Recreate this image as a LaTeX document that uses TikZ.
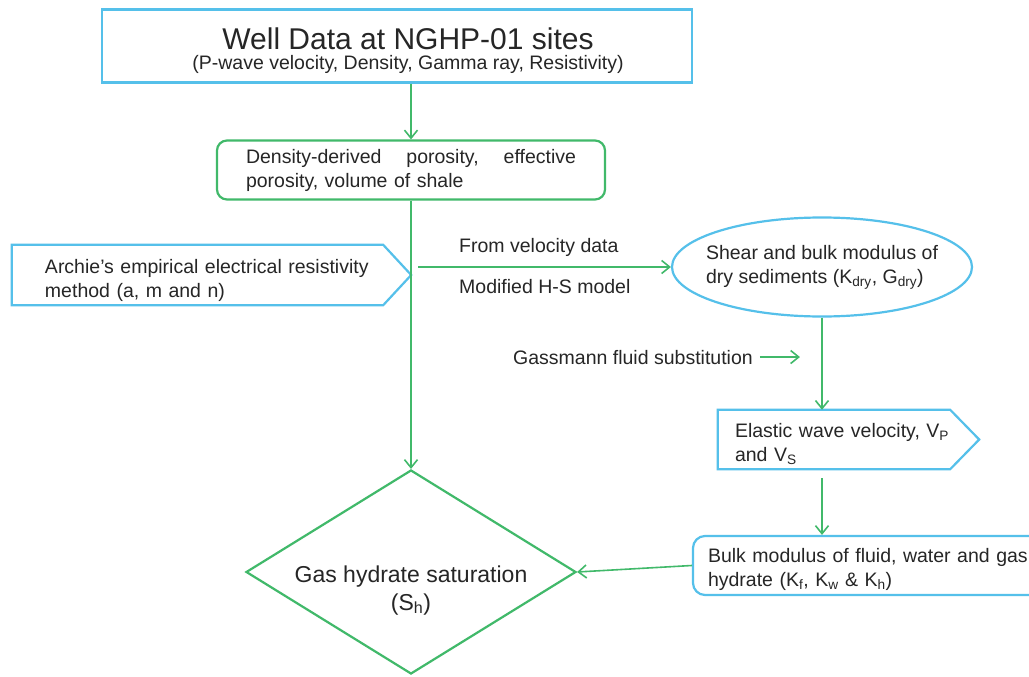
\documentclass[tikz,border=0pt]{standalone}
\usepackage{fontspec}
\setmainfont{Liberation Sans}
\usetikzlibrary{arrows.meta,shapes.geometric,calc}
\definecolor{bluec}{RGB}{85,192,234}
\definecolor{greenc}{RGB}{65,185,106}
\definecolor{txtc}{RGB}{38,38,38}
\newcommand\zbox[2]{\makebox[0pt]{\raisebox{#1}[0pt][0pt]{#2}}}
\newcommand\upstrut[1]{\rule{0pt}{#1}}
\begin{document}
\begin{tikzpicture}[x=1pt,y=-1pt,
  font=\fontsize{19.5}{24}\selectfont, text=txtc,
  bluebox/.style={draw=bluec, line width=2.2pt},
  greenbox/.style={draw=greenc, line width=2.2pt},
  conn/.style={draw=greenc, line width=1.6pt, -{Straight Barb[length=8pt,width=13pt]}},
  lbl/.style={anchor=base west, inner sep=0pt}]
\useasboundingbox[fill=white] (0,0) rectangle (1029,677);

% top box
\node[bluebox, minimum width=590, minimum height=73, inner sep=0] (top) at (397,46)
  {\zbox{-24pt}{\hspace*{22pt}\fontsize{19.5}{20}\selectfont\begin{tabular}[b]{@{}c@{}}{\fontsize{30}{20}\selectfont Well Data at NGHP-01 sites}\\(P-wave velocity, Density, Gamma ray, Resistivity)\end{tabular}}};

% porosity box
\node[greenbox, rounded corners=10, minimum height=59, text width=330, inner xsep=29, inner ysep=0, align=left] (dens) at (411,170)
  {Density-derived\hfill porosity,\hfill effective\\porosity, volume of shale};

% Archie pentagon
\node[inner xsep=33, inner ysep=0, minimum height=60, text width=333, align=left] (archie) at (211.5,275)
  {\upstrut{26pt}Archie’s empirical electrical resistivity\\method (a, m and n)};
\draw[bluebox] (archie.north west) -- ($(archie.north east)+(-28,0)$) -- (archie.east)
  -- ($(archie.south east)+(-28,0)$) -- (archie.south west) -- cycle;

% ellipse
\node[ellipse, bluebox, minimum width=300, minimum height=99, inner sep=0] (shear) at (822,267)
  {\zbox{-16pt}{\begin{tabular}[b]{@{}l@{}}Shear and bulk modulus of\\dry sediments (K\textsubscript{dry}, G\textsubscript{dry})\end{tabular}}};

% labels on horizontal arrow
\node[lbl] (fvd) at (459,252) {From velocity data};
\node[lbl] (mhs) at (459,293) {Modified H-S model};

% Gassmann
\node[lbl] (gass) at (513,364) {Gassmann fluid substitution};

% elastic pentagon
\node[inner xsep=17, inner ysep=0, minimum height=59, text width=227, align=left] (elastic) at (848.5,439.5)
  {\upstrut{24pt}Elastic wave velocity, V\textsubscript{P}\\and V\textsubscript{S}};
\draw[bluebox] (elastic.north west) -- ($(elastic.north east)+(-29,0)$) -- (elastic.east)
  -- ($(elastic.south east)+(-29,0)$) -- (elastic.south west) -- cycle;

% bulk box
\node[bluebox, rounded corners=12, minimum height=59, inner xsep=15, inner ysep=0, text width=340, align=left] (bulk) at (878,565.5)
  {\upstrut{22pt}Bulk modulus of fluid, water and gas\\hydrate (K\textsubscript{f}, K\textsubscript{w} \& K\textsubscript{h})};

% diamond
\node[diamond, greenbox, minimum width=330, minimum height=204, inner sep=0, aspect=1.6] (sat) at (411,572)
  {\zbox{-38pt}{\fontsize{23}{28}\selectfont\begin{tabular}[b]{@{}c@{}}Gas hydrate saturation\\(S\textsubscript{h})\end{tabular}}};

% connectors
\coordinate (hs) at (418,267);
\coordinate (g1) at ($(gass.east)+(7,0)$);
\coordinate (g2) at ($(gass.east)+(47,0)$);
\draw[conn] (top.south -| dens.north) -- (dens.north);
\draw[conn] (dens.south) -- (dens.south |- sat.north);
\draw[conn] (hs) -- (shear.west);
\draw[conn] (shear.south) -- (shear.south |- elastic.north);
\draw[conn] (g1) -- (g2);
\draw[conn, shorten <=9pt] (shear.south |- elastic.south) -- (shear.south |- bulk.north);
\draw[conn] (bulk.west) -- (sat.east);
\end{tikzpicture}
\end{document}
